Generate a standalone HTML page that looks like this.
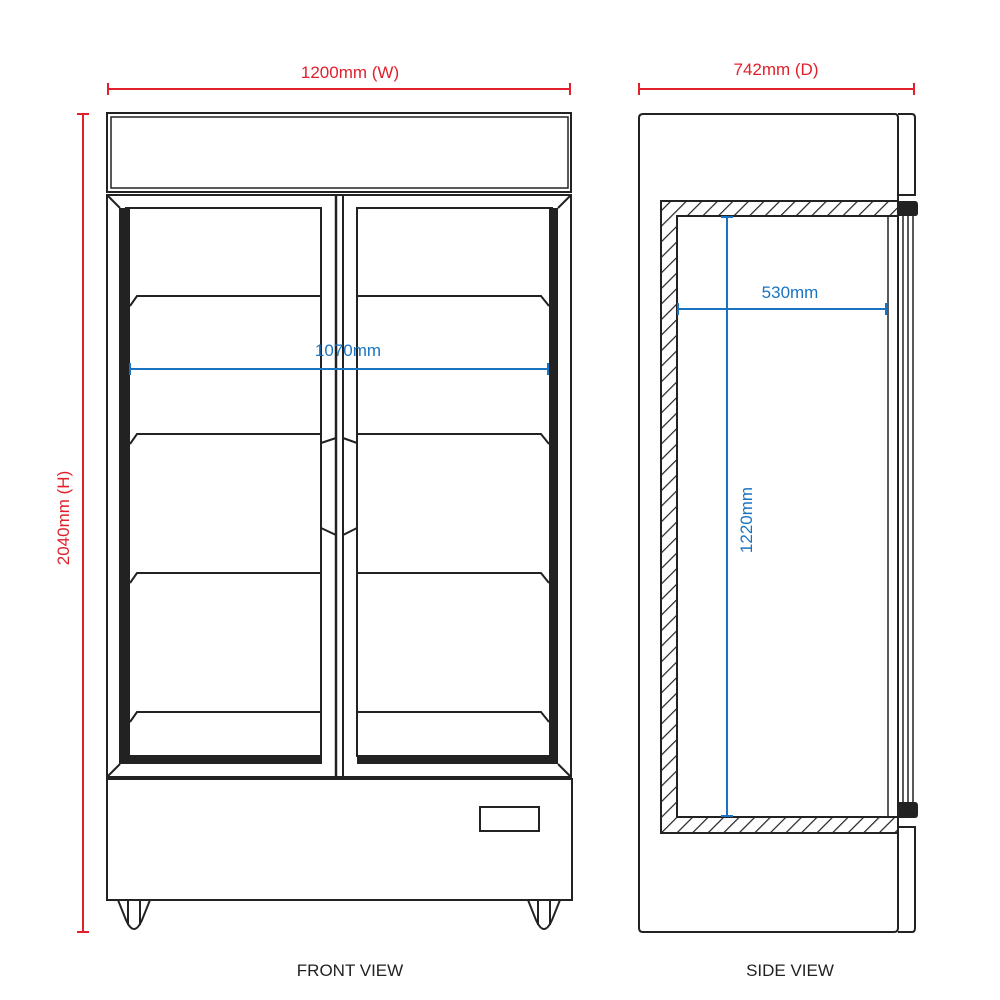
<!DOCTYPE html>
<html><head><style>body{margin:0;background:#fff}svg{display:block}text{font-family:"Liberation Sans",Arial,sans-serif}</style></head>
<body>
<svg width="1000" height="1000" viewBox="0 0 1000 1000" xmlns="http://www.w3.org/2000/svg">
<defs>
<pattern id="h" width="11" height="11" patternUnits="userSpaceOnUse" patternTransform="rotate(45)">
<rect width="11" height="11" fill="#fff"/><line x1="0" y1="0" x2="0" y2="11" stroke="#222" stroke-width="2.4"/>
</pattern>
</defs>
<g stroke="#e0202a" stroke-width="2" fill="none">
<line x1="108" y1="89" x2="570" y2="89"/><line x1="108" y1="83" x2="108" y2="95"/><line x1="570" y1="83" x2="570" y2="95"/>
<line x1="639" y1="89" x2="914" y2="89"/><line x1="639" y1="83" x2="639" y2="95"/><line x1="914" y1="83" x2="914" y2="95"/>
<line x1="83" y1="114" x2="83" y2="932"/><line x1="77" y1="114" x2="89" y2="114"/><line x1="77" y1="932" x2="89" y2="932"/>
</g>
<g fill="#e0202a" font-size="17" text-anchor="middle">
<text x="350" y="78">1200mm (W)</text>
<text x="776" y="75">742mm (D)</text>
<text transform="translate(69,518) rotate(-90)">2040mm (H)</text>
</g>
<g stroke="#222" stroke-width="2" fill="none">
<rect x="107" y="113" width="464" height="79"/>
<rect x="111" y="117" width="457" height="71" stroke-width="1.5"/>
<path d="M107 195 H571 V777 H107 Z"/>
<line x1="107" y1="195" x2="120" y2="208"/><line x1="571" y1="195" x2="558" y2="208"/>
<line x1="107" y1="777" x2="120" y2="764"/><line x1="571" y1="777" x2="558" y2="764"/>
<line x1="336" y1="195" x2="336" y2="777" stroke-width="2.5"/>
<line x1="343" y1="195" x2="343" y2="777"/>
<path d="M125 208 H321 V757"/>
<path d="M553 208 H357 V757"/>
<path d="M321 443 L336 438 M321 528 L336 535 M357 443 L343 438 M357 528 L343 535"/>
<path d="M130 306 L137 296 H321 M130 444 L137 434 H321 M130 583 L137 573 H321 M130 722 L137 712 H321"/>
<path d="M549 306 L541 296 H357 M549 444 L541 434 H357 M549 583 L541 573 H357 M549 722 L541 712 H357"/>
<rect x="107" y="779" width="465" height="121"/>
<rect x="480" y="807" width="59" height="24"/>
<path d="M118 900 L126 920 Q134 938 142 920 L150 900 M128 900 V925 M140 900 V925"/>
<path d="M528 900 L536 920 Q544 938 552 920 L560 900 M538 900 V925 M550 900 V925"/>
</g>
<g fill="#222">
<rect x="119" y="208" width="11" height="556"/>
<rect x="119" y="755" width="203" height="9"/>
<rect x="549" y="208" width="9" height="556"/>
<rect x="357" y="755" width="201" height="9"/>
</g>
<g stroke="#222" stroke-width="2" fill="none">
<path d="M643 114 H895 Q898 114 898 118 V928 Q898 932 894 932 H643 Q639 932 639 928 V118 Q639 114 643 114 Z"/>
<path d="M898 114 H912 Q915 114 915 118 V195 H898"/>
<path d="M898 827 H915 V928 Q915 932 912 932 H898"/>
</g>
<path d="M661 201 H898 V833 H661 Z M677 216 V817 H898 V216 Z" fill="url(#h)" fill-rule="evenodd" stroke="#222" stroke-width="2"/>
<g stroke="#222" stroke-width="1.5"><line x1="888" y1="216" x2="888" y2="817"/><line x1="903" y1="216" x2="903" y2="802"/><line x1="908" y1="216" x2="908" y2="802"/><line x1="913" y1="216" x2="913" y2="802"/></g>
<path d="M898 201 H915 Q918 201 918 205 V213 Q918 216 915 216 H898 Z M898 802 H915 Q918 802 918 806 V814 Q918 818 915 818 H898 Z" fill="#222"/>
<g stroke="#1a73c0" stroke-width="2" fill="none">
<line x1="130" y1="369" x2="548" y2="369"/><line x1="130" y1="363" x2="130" y2="375"/><line x1="548" y1="363" x2="548" y2="375"/>
<line x1="727" y1="217" x2="727" y2="816"/><line x1="721" y1="217" x2="733" y2="217"/><line x1="721" y1="816" x2="733" y2="816"/>
<line x1="678" y1="309" x2="886" y2="309"/><line x1="678" y1="303" x2="678" y2="315"/><line x1="886" y1="303" x2="886" y2="315"/>
</g>
<g fill="#1a73c0" font-size="17" text-anchor="middle">
<text x="348" y="356">1070mm</text>
<text x="790" y="298">530mm</text>
<text transform="translate(752,520) rotate(-90)">1220mm</text>
</g>
<g fill="#222" font-size="17" text-anchor="middle">
<text x="350" y="976">FRONT VIEW</text>
<text x="790" y="976">SIDE VIEW</text>
</g>
</svg>
</body></html>
